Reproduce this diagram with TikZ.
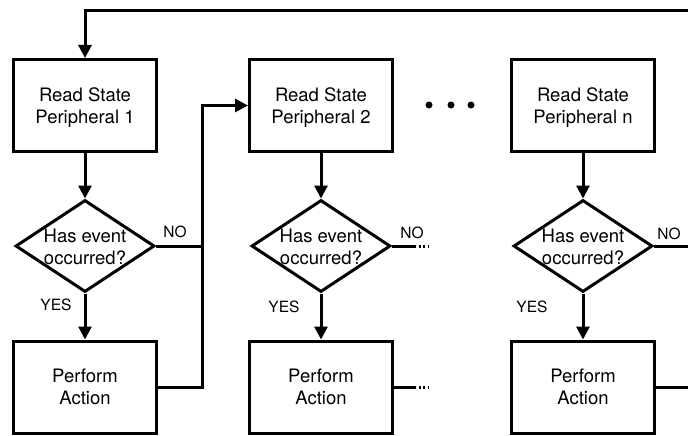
\documentclass[tikz,border=0pt]{standalone}
\usepackage{fontspec}
\setmainfont{TeX Gyre Heros}
\usetikzlibrary{arrows.meta,shapes.geometric}

% two-line text set with no size, so the diamond keeps its own dimensions
\newcommand{\dtext}[1]{\makebox[0pt]{\raisebox{-7pt}[0pt][0pt]{\begin{tabular}{@{}c@{}}#1\end{tabular}}}}

\tikzset{
  flow/.style={line width=3pt},
  box/.style={flow, draw, rectangle, minimum width=143pt, minimum height=92pt,
    inner sep=0pt, align=center, text depth=0pt, font=\fontsize{18.5}{22}\selectfont},
  decision/.style={flow, draw, diamond, minimum width=139pt, minimum height=92pt,
    inner sep=0pt, font=\fontsize{18.5}{22}\selectfont},
  lbl/.style={inner sep=0pt, font=\fontsize{15.5}{18}\selectfont},
  arr/.style={flow, -{Triangle[length=13pt,width=13pt]}},
  stub/.style={flow, dash pattern=on 2pt off 2.5pt},
  bigdot/.style={circle, fill, inner sep=0pt, minimum size=7pt},
}

\begin{document}
\begin{tikzpicture}[x=1pt,y=-1pt]
\useasboundingbox (0,0) rectangle (688,436);

% column 1
\node[box] (r1) at (85,105.5) {Read State\\Peripheral 1};
\node[decision] (d1) at (85,246) {\dtext{Has event\\occurred?}};
\node[box] (p1) at (85,387) {Perform\\Action};

% column 2
\node[box] (r2) at (321,105.5) {Read State\\Peripheral 2};
\node[decision] (d2) at (321,246) {\dtext{Has event\\occurred?}};
\node[box] (p2) at (321,387) {Perform\\Action};

% column n
\node[box] (r3) at (583,105.5) {Read State\\Peripheral n};
\node[decision] (d3) at (583,246) {\dtext{Has event\\occurred?}};
\node[box] (p3) at (583,387) {Perform\\Action};

% ellipsis between columns
\node[bigdot] (e1) at (429,105) {};
\node[bigdot] (e2) at (451,105) {};
\node[bigdot] (e3) at (471,105) {};

% branch labels
\node[lbl] (no1) at (175,232) {NO};
\node[lbl] (no2) at (412,233) {NO};
\node[lbl] (no3) at (669,234) {NO};
\node[lbl] (yes1) at (56,305) {YES};
\node[lbl] (yes2) at (284,307) {YES};
\node[lbl] (yes3) at (532,307) {YES};

% junctions
\coordinate (top) at (692,11);
\coordinate (j) at (202,105.5);

% vertical flow inside the columns
\foreach \c in {1,2,3} {
  \draw[arr] (r\c.south) -- (d\c.north);
  \draw[arr] (d\c.south) -- (p\c.north);
}

% loop back from the last column to the first
\draw[arr] (top) -| (r1.north);

% column 1 to column 2
\draw[flow] (d1.east) -- (d1.east -| j);
\draw[arr] (p1.east) -| (j) -- (r2.west);

% column 2 continues
\draw[flow] (d2.east) -- ++(22,0) coordinate (a2);
\draw[stub] (a2) -- ++(14,0);
\draw[flow] (p2.east) -- ++(20,0) coordinate (b2);
\draw[stub] (b2) -- ++(14,0);

% column n returns to the top line
\draw[flow] (d3.east) -- (d3.east -| top);
\draw[flow] (p3.east) -- (p3.east -| top);
\end{tikzpicture}
\end{document}
